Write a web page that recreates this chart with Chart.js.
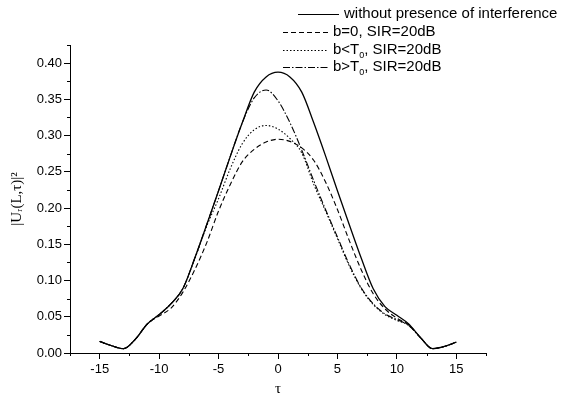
<!DOCTYPE html>
<html>
<head>
<meta charset="utf-8">
<script src="https://cdn.jsdelivr.net/npm/chart.js@4"></script>
<style>
  html, body { margin: 0; padding: 0; background: #fff; }
  #wrap { width: 562px; height: 403px; }
</style>
</head>
<body>
<div id="wrap"><canvas id="chart" width="562" height="403"></canvas></div>
<script>
// τ grid (x axis)
const tau = [-15, -14, -13, -12, -11, -10, -9, -8, -7, -6, -5, -4, -3, -2, -1, 0,
             1, 2, 3, 4, 5, 6, 7, 8, 9, 10, 11, 12, 13, 14, 15];

// |U_r(L,τ)|^2
const withoutInterference = [0.016, 0.010, 0.006, 0.019, 0.040, 0.053, 0.068, 0.089, 0.131, 0.177, 0.224, 0.272, 0.318, 0.360, 0.381, 0.3875,
                             0.381, 0.360, 0.318, 0.272, 0.224, 0.177, 0.131, 0.089, 0.064, 0.052, 0.040, 0.021, 0.006, 0.009, 0.015];
const bZero = [0.016, 0.010, 0.006, 0.019, 0.040, 0.051, 0.062, 0.084, 0.115, 0.152, 0.196, 0.233, 0.264, 0.281, 0.291, 0.295,
               0.292, 0.283, 0.266, 0.236, 0.198, 0.155, 0.115, 0.082, 0.061, 0.048, 0.039, 0.021, 0.006, 0.009, 0.015];
const bBelowT0 = [0.016, 0.010, 0.006, 0.019, 0.040, 0.053, 0.068, 0.089, 0.130, 0.175, 0.213, 0.255, 0.289, 0.308, 0.314, 0.309,
                  0.296, 0.276, 0.233, 0.196, 0.158, 0.120, 0.089, 0.067, 0.053, 0.045, 0.038, 0.021, 0.006, 0.009, 0.015];
const bAboveT0 = [0.016, 0.010, 0.006, 0.019, 0.040, 0.053, 0.068, 0.089, 0.131, 0.177, 0.224, 0.272, 0.318, 0.352, 0.363, 0.348,
                  0.318, 0.280, 0.238, 0.198, 0.160, 0.122, 0.090, 0.068, 0.054, 0.046, 0.038, 0.021, 0.006, 0.009, 0.015];

const seriesLabels = ['without presence of interference', 'b=0, SIR=20dB', 'b<T₀, SIR=20dB', 'b>T₀, SIR=20dB'];
const seriesDash = [[], [5, 3], [1.5, 2], [7, 2, 1.5, 2]];

const FONT = '"Liberation Sans", Arial, sans-serif';
const SERIF = '"Liberation Serif", "Times New Roman", "DejaVu Serif", serif';

function pts(vals) {
  return tau.map((t, i) => ({ x: t, y: vals[i] }));
}

function isMajor(v, step) {
  const r = v / step;
  return Math.abs(r - Math.round(r)) < 1e-6;
}

// legend drawn on the canvas, top right, outside the plot box
const legendRows = [
  { x0: 298, x1: 339, tx: 344, y: 14 },
  { x0: 283, x1: 328, tx: 333, y: 32 },
  { x0: 283, x1: 328, tx: 333, y: 50 },
  { x0: 283, x1: 328, tx: 333, y: 67 }
];

const legendPlugin = {
  id: 'sideLegend',
  afterDraw(chart) {
    const ctx = chart.ctx;
    ctx.save();
    chart.data.datasets.forEach((ds, i) => {
      const r = legendRows[i];
      ctx.strokeStyle = '#000';
      ctx.lineWidth = 1.2;
      ctx.setLineDash(ds.borderDash || []);
      ctx.beginPath();
      ctx.moveTo(r.x0, r.y + 0.5);
      ctx.lineTo(r.x1, r.y + 0.5);
      ctx.stroke();
      ctx.setLineDash([]);
      ctx.fillStyle = '#000';
      ctx.textBaseline = 'middle';
      ctx.textAlign = 'left';
      const parts = ds.label.split('₀');
      let x = r.tx;
      parts.forEach((p, k) => {
        ctx.font = '15px ' + FONT;
        ctx.fillText(p, x, r.y);
        x += ctx.measureText(p).width;
        if (k < parts.length - 1) {
          ctx.font = '9px ' + FONT;
          ctx.fillText('0', x, r.y + 6);
          x += ctx.measureText('0').width;
        }
      });
    });
    ctx.restore();
  }
};

// short minor ticks (the library draws the long major ones)
const minorTicks = {
  id: 'minorTicks',
  afterDraw(chart) {
    const { ctx, scales: { x, y } } = chart;
    ctx.save();
    ctx.strokeStyle = '#000';
    ctx.lineWidth = 1;
    x.ticks.forEach(t => {
      if (isMajor(t.value, 5)) return;
      const px = Math.round(x.getPixelForValue(t.value)) + 0.5;
      ctx.beginPath();
      ctx.moveTo(px, x.top);
      ctx.lineTo(px, x.top + 3);
      ctx.stroke();
    });
    y.ticks.forEach(t => {
      if (isMajor(t.value, 0.05)) return;
      const py = Math.round(y.getPixelForValue(t.value)) + 0.5;
      ctx.beginPath();
      ctx.moveTo(y.right, py);
      ctx.lineTo(y.right - 3, py);
      ctx.stroke();
    });
    ctx.restore();
  }
};

const allSeries = [withoutInterference, bZero, bBelowT0, bAboveT0];

new Chart(document.getElementById('chart'), {
  type: 'line',
  data: {
    datasets: allSeries.map((vals, i) => ({
      label: seriesLabels[i],
      data: pts(vals),
      borderColor: '#000',
      borderWidth: i === 0 ? 1.3 : 1.1,
      borderDash: seriesDash[i],
      pointRadius: 0,
      fill: false,
      cubicInterpolationMode: 'monotone'
    }))
  },
  options: {
    responsive: false,
    devicePixelRatio: 1,
    animation: false,
    layout: { padding: { top: 45, right: 76, left: 0, bottom: 0 } },
    plugins: {
      legend: { display: false },
      tooltip: { enabled: false }
    },
    scales: {
      x: {
        type: 'linear',
        min: -17.5,
        max: 17.5,
        afterFit: s => { s.height = 50; },
        border: { display: true, color: '#000', width: 1 },
        grid: {
          drawOnChartArea: false,
          drawTicks: true,
          tickLength: 6,
          tickColor: c => (c.tick && isMajor(c.tick.value, 5)) ? '#000' : 'rgba(0,0,0,0)'
        },
        ticks: {
          stepSize: 2.5,
          autoSkip: false,
          maxRotation: 0,
          padding: 3,
          color: '#000',
          font: { family: FONT, size: 13 },
          callback: v => isMajor(v, 5) ? String(Math.round(v)) : ''
        },
        title: {
          display: true,
          text: 'τ',
          color: '#000',
          font: { family: SERIF, size: 15 },
          padding: { top: 0, bottom: 5 }
        }
      },
      y: {
        type: 'linear',
        min: 0,
        max: 0.425,
        afterFit: s => { s.width = 70; },
        border: { display: true, color: '#000', width: 1 },
        grid: {
          drawOnChartArea: false,
          drawTicks: true,
          tickLength: 6,
          tickColor: c => (c.tick && isMajor(c.tick.value, 0.05)) ? '#000' : 'rgba(0,0,0,0)'
        },
        ticks: {
          stepSize: 0.025,
          autoSkip: false,
          padding: 2,
          color: '#000',
          font: { family: FONT, size: 13 },
          callback: v => isMajor(v, 0.05) ? v.toFixed(2) : ''
        },
        title: {
          display: true,
          text: '|Uᵣ(L,τ)|²',
          color: '#000',
          font: { family: SERIF, size: 15 },
          padding: { top: 8, bottom: 0 }
        }
      }
    }
  },
  plugins: [legendPlugin, minorTicks]
});
</script>
</body>
</html>
